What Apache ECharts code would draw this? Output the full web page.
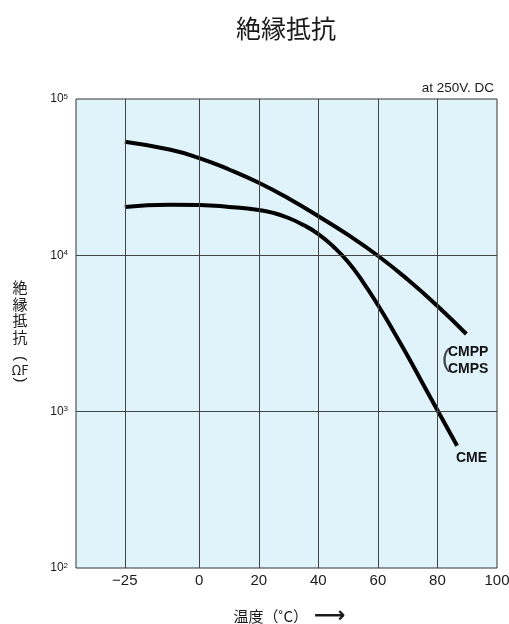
<!DOCTYPE html>
<html><head><meta charset="utf-8">
<script src="https://cdn.jsdelivr.net/npm/echarts@6/dist/echarts.min.js"></script>
<style>html,body{margin:0;padding:0;background:#fff}#c{width:509px;height:624px}</style>
</head><body><div id="c"></div>
<script>
var xTicks = [-25, 0, 20, 40, 60, 80, 100];
var xTickLabels = ['−25', '0', '20', '40', '60', '80', '100'];
var yGridValues = [1000, 10000];
var cmppTemp = [-25, -10, 0, 10, 20, 30, 40, 50, 60, 70, 80, 89.7];
var cmppVal = [53300, 47500, 41900, 35400, 29100, 23100, 17800, 13500, 9940, 7000, 4740, 3140];
var cmeTemp = [-25, -10, 0, 10, 20, 25, 30, 35, 40, 45, 50, 55, 60, 65, 70, 75, 80, 86.6];
var cmeVal = [20400, 21100, 21000, 20400, 19500, 18650, 17330, 15630, 13690, 11390, 9060, 6750, 4810, 3330, 2270, 1520, 1020, 605];

function pairs(xs, ys) { return xs.map(function (x, i) { return [x, ys[i]]; }); }
var FONT = '"Liberation Sans", Arial, sans-serif';
var CJK = '"Noto Sans CJK JP", sans-serif';

var chart = echarts.init(document.getElementById('c'), null, {renderer: 'canvas'});
chart.setOption({
  animation: false,
  backgroundColor: '#fff',
  title: {
    text: '絶縁抵抗', left: 281, textAlign: 'center', top: 11,
    textStyle: {fontFamily: CJK, fontSize: 25, fontWeight: 'normal', color: '#1a1a1a'}
  },
  grid: {left: 76, right: 12, top: 99, bottom: 56, show: true, containLabel: false,
         outerBoundsMode: 'none',
         backgroundColor: '#e0f3fb', borderColor: '#333', borderWidth: 1},
  xAxis: {
    type: 'value', min: -41.4, max: 100,
    name: '温度（˚C）{a|⟶}', nameLocation: 'middle', nameGap: 37,
    nameTextStyle: {fontFamily: CJK, fontSize: 15, color: '#1a1a1a', padding: [0, 0, 0, 6],
      rich: {a: {fontFamily: '"DejaVu Sans", sans-serif', fontSize: 22, fontWeight: 'bold', color: '#1a1a1a', padding: [0, 0, 0, 6]}}},
    axisLine: {show: false}, axisTick: {show: false}, splitLine: {show: false},
    axisLabel: {customValues: xTicks, margin: 5, fontFamily: FONT, fontSize: 15, color: '#1a1a1a',
      formatter: function (v) { var i = xTicks.indexOf(v); return i >= 0 ? xTickLabels[i] : ''; }}
  },
  yAxis: {
    type: 'log', logBase: 10, min: 100, max: 100000,
    axisLine: {show: false}, axisTick: {show: false}, splitLine: {show: false},
    axisLabel: {margin: 8, color: '#1a1a1a',
      formatter: function (v) {
        var e = Math.round(Math.log10(v));
        return '{b|10}{s|' + e + '}';
      },
      rich: {b: {fontFamily: FONT, fontSize: 12, color: '#1a1a1a'},
             s: {fontFamily: FONT, fontSize: 8, color: '#1a1a1a', verticalAlign: 'top', padding: [0, 0, 5, 0]}}}
  },
  series: [
    {
      name: 'grid', type: 'line', data: [], silent: true,
      markLine: {
        symbol: 'none', silent: true, label: {show: false},
        lineStyle: {type: 'solid', color: '#444', width: 1},
        data: xTicks.slice(0, 6).map(function (v) { return {xAxis: v}; })
          .concat(yGridValues.map(function (v) { return {yAxis: v}; }))
      }
    },
    {
      name: 'CMPP/CMPS', type: 'line', smooth: 0.5, showSymbol: false,
      data: pairs(cmppTemp, cmppVal),
      lineStyle: {color: '#000', width: 4, cap: 'butt'}
    },
    {
      name: 'CME', type: 'line', smooth: 0.5, showSymbol: false,
      data: pairs(cmeTemp, cmeVal),
      lineStyle: {color: '#000', width: 4, cap: 'butt'}
    }
  ],
  graphic: [
    {type: 'text', x: 494, y: 88.5, style: {text: 'at 250V. DC', font: '13.5px ' + FONT, fill: '#1a1a1a', align: 'right', verticalAlign: 'middle'}},
    {type: 'text', x: 20, y: 279.5, style: {text: '絶\n縁\n抵\n抗', font: '15px ' + CJK, fill: '#1a1a1a', align: 'center', verticalAlign: 'top', lineHeight: 16.4}},
    {type: 'text', x: 20, y: 358.5, rotation: -Math.PI / 2, style: {text: '(', font: '15px ' + FONT, fill: '#1a1a1a', align: 'center', verticalAlign: 'middle'}},
    {type: 'text', x: 20, y: 370.5, style: {text: 'ΩF', font: '13px ' + CJK, fill: '#1a1a1a', align: 'center', verticalAlign: 'middle'}},
    {type: 'text', x: 20, y: 380, rotation: -Math.PI / 2, style: {text: ')', font: '15px ' + FONT, fill: '#1a1a1a', align: 'center', verticalAlign: 'middle'}},
    {type: 'text', x: 446, y: 360, style: {text: '(', font: '26px ' + FONT, fill: '#444', align: 'center', verticalAlign: 'middle'}},
    {type: 'text', x: 448, y: 344, style: {text: 'CMPP\nCMPS', font: 'bold 14px ' + FONT, fill: '#111', lineHeight: 16.5, verticalAlign: 'top'}},
    {type: 'text', x: 456, y: 450.5, style: {text: 'CME', font: 'bold 14px ' + FONT, fill: '#111', lineHeight: 16, verticalAlign: 'top'}}
  ]
});
</script></body></html>
